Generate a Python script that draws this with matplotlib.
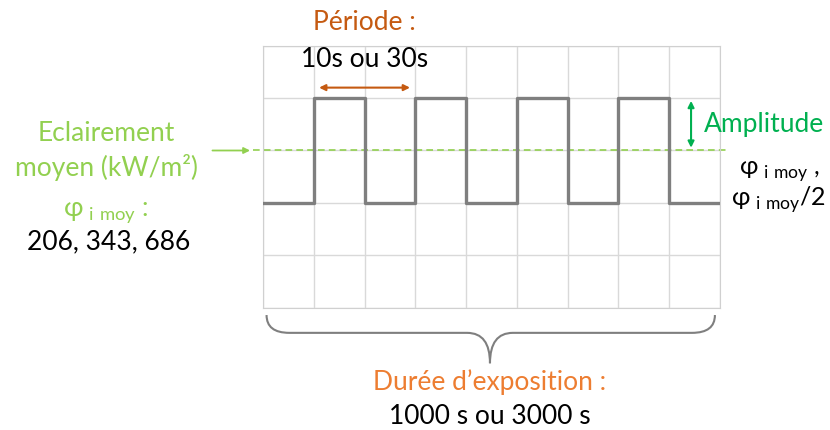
import matplotlib
matplotlib.use("Agg")
import matplotlib.pyplot as plt
from matplotlib.path import Path
from matplotlib.patches import PathPatch

plt.rcParams['font.family'] = ['Lato', 'DejaVu Sans']
plt.rcParams['mathtext.fontset'] = 'custom'
plt.rcParams['mathtext.rm'] = 'Lato'

# signal carré : niveau par case de la grille
levels = [2, 4, 2, 4, 2, 4, 2, 4, 2]
n_cols = 9
n_rows = 5
mean_level = 3
period = 2          # en cases
flux_values = ['206', '343', '686']

GREEN_LIGHT = '#92d050'
GREEN = '#00b050'
ORANGE_DARK = '#c55a11'
ORANGE = '#ed7d31'
GREY = '#7f7f7f'
FS = 19

fig = plt.figure(figsize=(8.3, 4.3), dpi=100)
ax = fig.add_axes([263 / 830, 1 - 307.7 / 430, 457 / 830, 262 / 430])
ax.set_xlim(0, n_cols)
ax.set_ylim(0, n_rows)
ax.set_xticks(range(n_cols + 1))
ax.set_yticks(range(n_rows + 1))
ax.tick_params(length=0, labelbottom=False, labelleft=False)
ax.grid(True, color='#d9d9d9', lw=1)
for s in ax.spines.values():
    s.set_color('#d0d0d0')

# signal
xs = list(range(n_cols + 1))
ax.step(xs, levels + [levels[-1]], where='post', color=GREY, lw=2.4, zorder=3)

# éclairement moyen
ax.plot([-0.2, 9.15], [mean_level, mean_level], color=GREEN_LIGHT, lw=1.2,
        ls=(0, (4, 2.5)), clip_on=False, zorder=2)
ax.annotate('', xy=(-0.2, mean_level), xytext=(-1.05, mean_level),
            arrowprops=dict(arrowstyle='-|>', color=GREEN_LIGHT, lw=1.3,
                            mutation_scale=9), annotation_clip=False)

# période
ax.annotate('', xy=(1.05, 4.2), xytext=(1 + period - 0.05, 4.2),
            arrowprops=dict(arrowstyle='<|-|>', color=ORANGE_DARK, lw=1.5,
                            mutation_scale=9), annotation_clip=False)
ax.text(2.0, 5.45, 'Période :', color=ORANGE_DARK, fontsize=FS,
        ha='center', va='center', clip_on=False)
ax.text(2.0, 4.73, '10s ou 30s', color='black', fontsize=FS,
        ha='center', va='center', clip_on=False)

# amplitude
ax.annotate('', xy=(8.43, 4.0), xytext=(8.43, mean_level),
            arrowprops=dict(arrowstyle='<|-|>', color=GREEN, lw=1.5,
                            mutation_scale=9), annotation_clip=False)
ax.text(8.68, 3.5, 'Amplitude', color=GREEN, fontsize=FS,
        ha='left', va='center', clip_on=False)
ax.text(9.37, 2.6, r'φ$_{\ \mathrm{i\ moy}}$ ,', color='black', fontsize=18,
        ha='left', va='center', clip_on=False)
ax.text(9.22, 2.05, r'φ$_{\ \mathrm{i\ moy}}$/2', color='black', fontsize=18,
        ha='left', va='center', clip_on=False)

# textes à gauche
ax.text(-3.09, 3.33, 'Eclairement', color=GREEN_LIGHT, fontsize=FS,
        ha='center', va='center', clip_on=False)
ax.text(-3.09, 2.67, 'moyen (kW/m²)', color=GREEN_LIGHT, fontsize=FS,
        ha='center', va='center', clip_on=False)
ax.text(-3.09, 1.81, r'φ$_{\ \mathrm{i\ moy}}$ :', color=GREEN_LIGHT, fontsize=FS,
        ha='center', va='center', clip_on=False)
ax.text(-3.05, 1.25, ', '.join(flux_values), color='black', fontsize=FS,
        ha='center', va='center', clip_on=False)

# accolade durée d'exposition
x0, x1, xm = 0.07, 8.9, 4.47
yt, ym, yb = -0.14, -0.48, -1.06
verts = [(x0, yt), (x0, ym), (x0 + 0.45, ym),
         (xm - 0.45, ym),
         (xm, ym), (xm, yb),
         (xm, ym), (xm + 0.45, ym),
         (x1 - 0.45, ym),
         (x1, ym), (x1, yt)]
codes = [Path.MOVETO, Path.CURVE3, Path.CURVE3,
         Path.LINETO,
         Path.CURVE3, Path.CURVE3,
         Path.CURVE3, Path.CURVE3,
         Path.LINETO,
         Path.CURVE3, Path.CURVE3]
ax.add_patch(PathPatch(Path(verts, codes), fc='none', ec=GREY, lw=1.5,
                       clip_on=False))
ax.text(xm, -1.42, 'Durée d’exposition :', color=ORANGE, fontsize=FS,
        ha='center', va='center', clip_on=False)
ax.text(xm, -2.07, '1000 s ou 3000 s', color='black', fontsize=FS,
        ha='center', va='center', clip_on=False)

fig.savefig('out.png', dpi=100)
